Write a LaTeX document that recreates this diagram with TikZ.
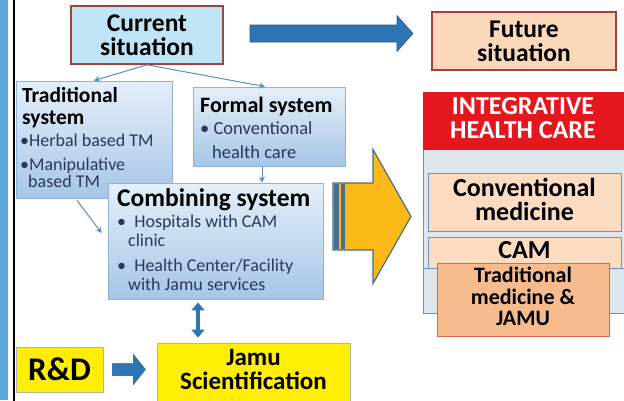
\documentclass[tikz,border=0pt]{standalone}
\usepackage{fontspec}
\setmainfont{Carlito}
\usepackage{xcolor}
\usetikzlibrary{arrows.meta,calc,positioning}
\definecolor{nowfill}{RGB}{191,228,245}
\definecolor{boxred}{RGB}{163,64,56}
\definecolor{futfill}{RGB}{251,216,186}
\definecolor{sysborder}{RGB}{143,178,214}
\definecolor{systop}{RGB}{228,239,249}
\definecolor{sysbottom}{RGB}{166,197,230}
\definecolor{listblue}{RGB}{40,55,90}
\definecolor{linkblue}{RGB}{84,141,200}
\definecolor{bigblue}{RGB}{46,117,182}
\definecolor{ihcred}{RGB}{230,22,30}
\definecolor{ihcframe}{RGB}{112,143,184}
\definecolor{ihcfill}{RGB}{221,229,237}
\definecolor{medfill}{RGB}{251,220,192}
\definecolor{tmjfill}{RGB}{246,187,141}
\definecolor{tmjborder}{RGB}{224,104,74}
\definecolor{jamuyellow}{RGB}{255,238,0}
\definecolor{goldarrow}{RGB}{251,185,24}
\definecolor{arrowedge}{RGB}{76,109,140}
\definecolor{sidestrip}{RGB}{91,167,220}
% right-pointing block arrow: style, start, shaft length, half shaft, half head, head length
\newcommand{\rblock}[6]{%
  \filldraw[#1] (#2) ++(0,-#4) -- ++(#3,0) -- ++(0,#4-#5) -- ++(#6,#5)
    -- ++(-#6,#5) -- ++(0,#4-#5) -- ++(-#3,0) -- cycle;%
}

\begin{document}
\begin{tikzpicture}[x=1pt,y=-1pt,
  box/.style={draw,inner sep=0pt},
  sysbox/.style={box,draw=sysborder,line width=0.8pt,top color=systop,bottom color=sysbottom},
  medbox/.style={box,draw=ihcframe,line width=0.9pt,fill=medfill},
  head/.style={font=\fontsize{25.5}{24}\selectfont\bfseries,align=center},
  subhead/.style={font=\fontsize{21.5}{22}\selectfont\bfseries,align=left,inner sep=0pt},
  items/.style={text=listblue,align=left,inner sep=0pt},
  link/.style={draw=linkblue,line width=1pt,-{Stealth[length=6pt,width=6pt]}}]
  \useasboundingbox (0,0) rectangle (624,400);
  \clip (0,0) rectangle (624,400);
  % page edge
  \fill[sidestrip] (0,0) rectangle (8,400);
  \draw[black,line width=2pt] (14,-2) -- (14,402);

  % top row
  \node[box,draw=boxred,line width=1.6pt,fill=nowfill,minimum width=152,minimum height=58,
    head] (now) at (147,35) {Current\\situation};
  \node[box,draw=boxred,line width=1.3pt,fill=futfill,minimum width=184,minimum height=58,
    head] (fut) at (524,41) {Future\\situation};
  \rblock{fill=bigblue,draw=bigblue!80!black,line width=0.6pt}{250,33.5}{147}{8.5}{18}{16}

  % health systems (base anchors sit on the last line)
  \node[sysbox,minimum width=156,minimum height=117] (trad) at (94,139.5) {};
  \node[subhead,anchor=base west] (tradhead) at (22,124) {Traditional\\system};
  \node[items,font=\fontsize{18}{17}\selectfont,anchor=base west] (tradlist) at (20,187)
    {\textbullet Herbal based TM\\[7pt]\textbullet Manipulative\\\hspace{8pt}based TM};
  \node[sysbox,minimum width=152,minimum height=79] (formal) at (269,126.5) {};
  \node[subhead,font=\fontsize{22}{22}\selectfont\bfseries,anchor=base west] (formalhead)
    at (200,112) {Formal system};
  \node[items,font=\fontsize{18.5}{24}\selectfont,anchor=base west] (formallist) at (200,158)
    {\textbullet\ Conventional\\\hspace{12pt}health care};
  \node[sysbox,minimum width=215,minimum height=116] (comb) at (215.5,241) {};
  \node[head,anchor=base west,inner sep=0pt] (combhead) at (117,206) {Combining system};
  \node[items,font=\fontsize{18}{19}\selectfont,anchor=base west] (comblist) at (117,290)
    {\textbullet\ \ Hospitals with CAM\\\hspace{11pt}clinic\\[6pt]
     \textbullet\ \ Health Center/Facility\\\hspace{11pt}with Jamu services};

  \draw[link] (now.south) -- (trad.north);
  \draw[link] (now.south) -- ([xshift=-4]formal.north);
  \draw[link] ([xshift=-7]formal.south) -- ([xshift=-7]formal.south |- comb.north);
  \draw[link] ([xshift=-17,yshift=-2]trad.south) -- ([xshift=-6,yshift=8]comb.west);

  % research row
  \node[box,draw=gray!60,line width=0.8pt,fill=jamuyellow,minimum width=87,minimum height=45,
    font=\fontsize{33}{36}\selectfont\bfseries] (rnd) at (59.5,369.5) {R\&D};
  \node[box,draw=gray!60,line width=0.8pt,fill=jamuyellow,minimum width=193,minimum height=67]
    (jamu) at (253.5,376.5) {};
  \node[head,font=\fontsize{25}{24}\selectfont\bfseries] (jamutext) at (253.5,369)
    {Jamu\\Scientification};
  \rblock{fill=bigblue,draw=bigblue!80!black,line width=0.5pt}{$(rnd.east)+(9,0)$}{21}{6}{15}{12}
  \draw[bigblue,line width=4.5pt,{Triangle[width=13pt,length=8pt]}-{Triangle[width=13pt,length=8pt]},
    shorten <=3pt,shorten >=5pt] ([xshift=-17.5]comb.south) -- ([xshift=-55.5]jamu.north);

  % integrative care
  \node[box,draw=ihcframe,line width=1pt,fill=ihcfill,minimum width=207,minimum height=221]
    (ihc) at (526.5,202.5) {};
  \node[box,draw=none,fill=ihcred,minimum width=207,minimum height=58] (ihchead) at (526.5,121) {};
  \node[text=white,font=\fontsize{26}{24}\selectfont\bfseries,align=center] (ihctext)
    at (523,118) {INTEGRATIVE\\HEALTH CARE};
  \node[medbox,minimum width=193,minimum height=58] (conv) at (524.5,202) {};
  \node[head,font=\fontsize{26}{24}\selectfont\bfseries] (convtext) at (524.5,199)
    {Conventional\\medicine};
  \node[medbox,minimum width=193,minimum height=31] (cam) at (524.5,252.5) {};
  \node[font=\fontsize{26}{24}\selectfont\bfseries] (camtext) at (524.5,250) {CAM};
  \draw[ihcframe,line width=1pt] (ihc.west |- cam.south) -- (ihc.east |- cam.south);
  \node[box,draw=tmjborder,line width=1pt,fill=tmjfill,minimum width=172,minimum height=73]
    (tmj) at (523,299.5) {};
  \node[font=\fontsize{22}{21.5}\selectfont\bfseries,align=center] (tmjtext) at (523,296.5)
    {Traditional\\medicine \&\\JAMU};

  % shift towards integration
  \rblock{fill=goldarrow,draw=arrowedge,line width=1.2pt}{333,216.5}{40}{33.5}{67}{38}
  \fill[arrowedge] (333.6,183.6) rectangle (339,249.4);
  \fill[arrowedge] (341,183.6) rectangle (345,249.4);
\end{tikzpicture}
\end{document}
